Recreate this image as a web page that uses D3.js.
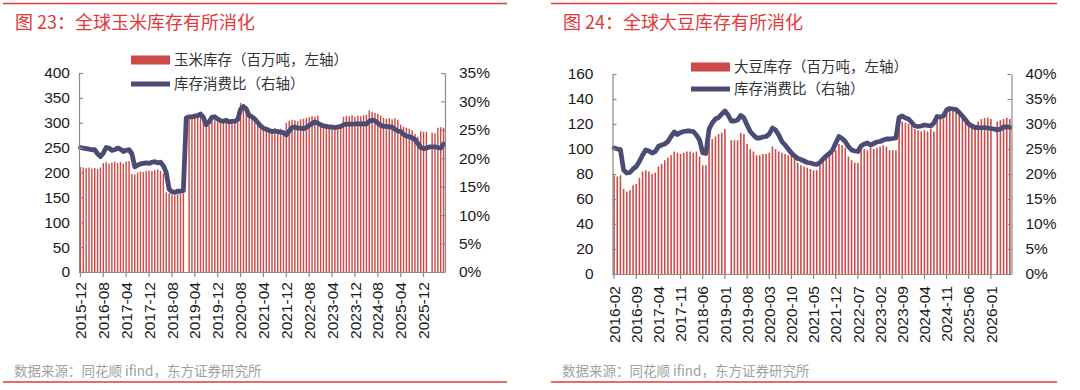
<!DOCTYPE html>
<html><head><meta charset="utf-8">
<script src="https://cdn.jsdelivr.net/npm/d3@7"></script>
<style>
body{margin:0;background:#fff;}
svg{display:block;font-family:"Liberation Sans",Arial,sans-serif;}
.cjk{font-family:"Noto Sans CJK SC","Noto Sans",sans-serif;}
</style></head><body>
<svg id="c" width="1080" height="390"></svg>
<script>
// ---------- DATA ----------
const fmt = d3.timeFormat("%Y-%m");
const cornMonths = d3.timeMonth.range(new Date(2015,11,1), new Date(2026,7,1)).map(fmt); // 2015-12 .. 2026-07
const soyMonths  = d3.timeMonth.range(new Date(2016,1,1),  new Date(2026,7,1)).map(fmt); // 2016-02 .. 2026-07

const cornTicks = ["2015-12","2016-08","2017-04","2017-12","2018-08","2019-04","2019-12","2020-08",
  "2021-04","2021-12","2022-08","2023-04","2023-12","2024-08","2025-04","2025-12"];
const soyTicks = ["2016-02","2016-09","2017-04","2017-11","2018-06","2019-01","2019-08","2020-03",
  "2020-10","2021-05","2021-12","2022-07","2023-02","2023-09","2024-04","2024-11","2025-06","2026-01"];

// 玉米库存（百万吨）
const cornStock = [
  211,210,209,210,208,209,207,210,
  219,221,218,220,222,219,221,218,222,223,
  197,196,
  200,202,201,203,204,203,205,206,203,198,
  160,158,155,154,156,157,158,
  null,
  310,309,311,310,312,308,
  296,294,
  302,305,303,300,299,301,298,297,299,300,
  340,338,330,318,309,304,298,293,290,288,
  290,287,289,286,288,285,
  300,304,306,305,303,307,308,
  310,311,313,312,314,
  298,296,295,294,296,293,295,294,
  312,314,313,315,312,314,313,315,316,
  325,322,320,318,314,
  310,308,309,307,309,306,
  296,292,290,288,285,
  278,272,
  283,282,282,
  null,
  280,279,
  290,291,290
];
// 玉米库存消费比（%）
const cornRatio = [
  21.9,21.8,21.7,21.6,21.5,21.5,20.8,20.3,
  20.9,21.9,21.8,21.4,21.5,21.8,21.6,21.2,21.4,21.5,
  20.8,18.5,
  18.8,19.0,19.1,19.2,19.1,19.3,19.4,19.2,19.3,18.7,
  17.5,14.6,14.1,14.0,14.2,14.2,14.3,
  27.1,
  27.3,27.3,27.4,27.5,27.8,27.2,
  25.9,26.4,
  27.2,27.3,26.9,26.6,26.5,26.7,26.4,26.5,26.5,26.8,
  28.6,29.1,28.7,27.5,27.3,26.9,26.3,25.7,25.3,25.1,
  24.9,24.7,24.8,24.7,24.6,24.5,
  24.1,24.8,25.4,25.5,25.3,25.3,25.2,
  25.4,25.8,26.1,26.4,26.2,
  25.9,25.7,25.6,25.5,25.5,25.4,25.5,25.6,
  25.9,26.0,26.0,26.0,26.0,26.1,26.0,26.1,26.0,
  26.5,26.7,26.6,26.2,25.8,
  25.6,25.6,25.5,25.5,25.1,24.8,
  24.7,24.2,23.9,23.8,23.6,
  23.3,22.6,
  21.9,21.7,21.8,
  22.0,
  22.0,22.0,
  21.9,21.8,22.5
];
// 大豆库存（百万吨）
const soyStock = [
  79,78,79, 68,66,67, 71,72, 77,82,83,82, 80,81, 86,88,91,93,
  95,98,97,96, 97,98,98,97,98, 94, 87,87, 105,108,110,112, 113,116,
  null,
  107,107,107, 113,112, 104,100, 98,95,95,96,96,97, 102,
  100,98,97,96,95,95, 94,89,87,86,85,84, 83,83, 89,91,93,95,97,99,
  104,103,101, 94,91,89,89, 99,100,99,101,100,101,102,103,102,99,99, 99,
  124,122,121, 120,119, 116,115,114,115,114,116,114, 125,125,124,
  129,131,131,130,129, 126,122,119, 117,117, 122,124,125,125,124,
  null,
  122,123,124,125,124
];
// 大豆库存消费比（%）
const soyRatio = [
  25.2,25.0,24.9,20.8,20.2,20.3,21.0,21.5,22.5,23.8,
  24.8,24.6,24.2,24.5,25.5,25.8,26.0,26.5,27.5,28.4,
  27.9,28.3,28.5,28.6,28.6,28.5,27.8,26.8,24.2,24.1,
  29.0,30.2,31.0,31.3,32.0,32.6,31.8,30.6,30.6,30.8,
  31.7,31.2,29.8,28.5,27.8,27.2,27.2,27.4,27.5,28.0,
  29.2,28.8,27.8,26.5,25.8,25.0,24.2,23.6,23.1,22.9,
  22.6,22.3,22.2,22.0,21.9,22.3,23.0,23.6,24.1,24.8,
  26.2,27.5,27.1,26.5,25.5,24.8,24.6,24.5,25.6,26.0,
  26.2,25.8,26.1,26.4,26.5,26.8,27.0,27.0,27.1,27.2,
  31.3,31.6,31.2,31.0,30.3,29.6,29.5,29.6,29.8,29.7,
  29.6,30.2,31.5,31.4,31.6,32.8,33.1,33.0,32.9,32.3,
  31.6,30.8,30.0,29.6,29.3,29.3,29.2,29.3,29.2,29.1,
  29.0,28.8,29.0,29.4,29.4,29.3
];

const cornLeftTicks = [0,50,100,150,200,250,300,350,400];
const cornRightTicks = [0,5,10,15,20,25,30,35];
const soyLeftTicks = [0,20,40,60,80,100,120,140,160];
const soyRightTicks = [0,5,10,15,20,25,30,35,40];

// ---------- DRAW ----------
const svg = d3.select("#c");
const RED = "#de3b3b", BAR = "#cc4a48", LINE = "#4b4c74", AXIS = "#8c8c8c";

function panel(o){
  const g = svg.append("g");
  g.append("line").attr("x1",o.rx0).attr("x2",o.rx1).attr("y1",3.5).attr("y2",3.5)
    .attr("stroke",RED).attr("stroke-width",1.6);
  g.append("line").attr("x1",o.rx0).attr("x2",o.rx1).attr("y1",382).attr("y2",382)
    .attr("stroke",RED).attr("stroke-width",1.6);
  g.append("text").attr("class","cjk").attr("x",o.tx).attr("y",29).attr("fill",RED)
    .attr("font-size",18).text(o.title);
  g.append("text").attr("class","cjk").attr("x",o.tx-1).attr("y",376).attr("fill","#a0a0a0")
    .attr("font-size",13.5).text("数据来源：同花顺 ifind，东方证券研究所");

  const x = d3.scaleBand().domain(o.cats).range([o.x0,o.x1]).paddingInner(0.5).paddingOuter(0.25);
  const bw = x.bandwidth();
  const yL = d3.scaleLinear().domain([0,o.lMax]).range([o.yb,o.yt]);
  const yR = d3.scaleLinear().domain([0,o.rMax]).range([o.yb,o.yt]);

  g.append("g").selectAll("rect").data(o.stock.map((v,i)=>({c:o.cats[i],v})).filter(d=>d.v!=null))
    .join("rect").attr("x",d=>x(d.c)).attr("width",bw)
    .attr("y",d=>yL(d.v)).attr("height",d=>yL(0)-yL(d.v)).attr("fill",BAR);

  const line = d3.line().defined(d=>d.v!=null).x(d=>x(d.c)+bw/2).y(d=>yR(d.v));
  g.append("path").datum(o.ratio.map((v,i)=>({c:o.cats[i],v})))
    .attr("d",line).attr("fill","none").attr("stroke",LINE).attr("stroke-width",4.8)
    .attr("stroke-linejoin","round").attr("stroke-linecap","round");

  const ax = g.append("g").attr("transform",`translate(${o.x0},0)`)
    .call(d3.axisLeft(yL).tickValues(o.lTicks).tickSizeInner(-4).tickSizeOuter(0).tickPadding(o.lPad));
  const ar = g.append("g").attr("transform",`translate(${o.x1},0)`)
    .call(d3.axisRight(yR).tickValues(o.rTicks).tickSizeInner(-4).tickSizeOuter(0).tickPadding(o.rPad)
      .tickFormat(d=>d+"%"));
  const ab = g.append("g").attr("transform",`translate(0,${o.yb})`)
    .call(d3.axisBottom(x).tickValues(o.ticks).tickSize(5).tickSizeOuter(0));
  ab.selectAll("text").attr("transform","rotate(-90)").attr("x",-o.bPad).attr("y",0)
    .attr("dy","0.36em").style("text-anchor","end");
  ab.select(".domain").attr("d",`M${o.x0},0.5H${o.x1}`);
  [ax,ar,ab].forEach(a=>{
    a.selectAll(".domain").attr("stroke",AXIS).attr("stroke-width",1.2);
    a.selectAll(".tick line").attr("stroke",AXIS).attr("stroke-width",1.2);
    a.selectAll("text").attr("fill","#1a1a1a").attr("font-size",15.5)
      .attr("font-family","'Liberation Sans',Arial,sans-serif");
  });

  const lg = g.append("g").attr("class","cjk");
  lg.append("rect").attr("x",o.lgx).attr("y",o.lg1-4.5).attr("width",39).attr("height",9).attr("fill",BAR);
  lg.append("text").attr("x",o.lgx+43).attr("y",o.lg1).attr("dy","0.35em").attr("font-size",14.5)
    .attr("fill","#333").text(o.leg1);
  lg.append("line").attr("x1",o.lgx).attr("x2",o.lgx+39).attr("y1",o.lg2).attr("y2",o.lg2)
    .attr("stroke",LINE).attr("stroke-width",4.8);
  lg.append("text").attr("x",o.lgx+43).attr("y",o.lg2).attr("dy","0.35em").attr("font-size",14.5)
    .attr("fill","#333").text("库存消费比（右轴）");
}

panel({
  title:"图 23：全球玉米库存有所消化", tx:15, rx0:3, rx1:507,
  cats:cornMonths, ticks:cornTicks, stock:cornStock, ratio:cornRatio,
  x0:79, x1:445, yt:73, yb:272, lMax:400, rMax:35,
  lTicks:cornLeftTicks, rTicks:cornRightTicks, lPad:9, rPad:14, bPad:10,
  lgx:131, lg1:60, lg2:84, leg1:"玉米库存（百万吨，左轴）"
});
panel({
  title:"图 24：全球大豆库存有所消化", tx:563, rx0:551, rx1:1057,
  cats:soyMonths, ticks:soyTicks, stock:soyStock, ratio:soyRatio,
  x0:612.5, x1:1011.5, yt:74, yb:274, lMax:160, rMax:40,
  lTicks:soyLeftTicks, rTicks:soyRightTicks, lPad:19, rPad:14, bPad:12,
  lgx:691, lg1:67, lg2:89, leg1:"大豆库存（百万吨，左轴）"
});
</script>
</body></html>
